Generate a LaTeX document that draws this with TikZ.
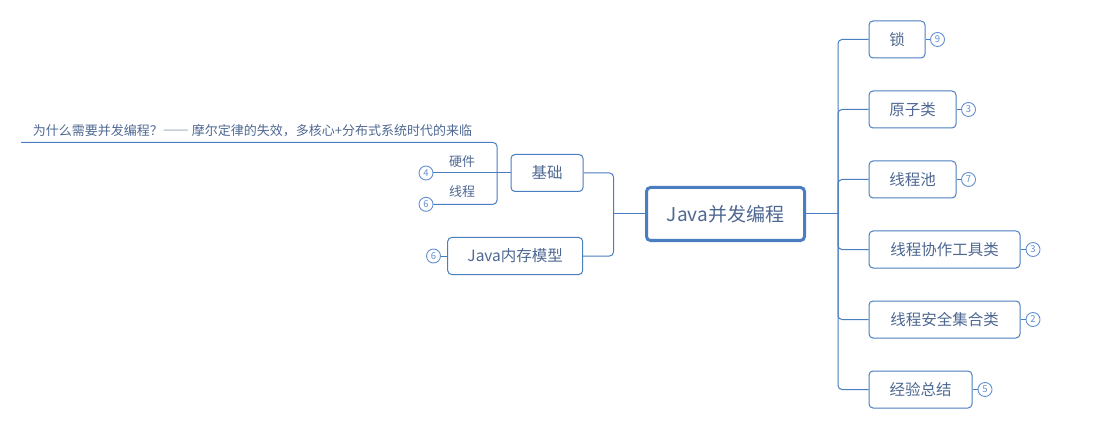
\documentclass[tikz,border=0pt]{standalone}
\usepackage{fontspec}
\setmainfont{Noto Sans CJK SC}
\definecolor{ln}{RGB}{74,126,192}
\definecolor{tx}{RGB}{78,104,146}
\definecolor{bd}{RGB}{100,145,210}
\tikzset{
  topic/.style={draw=ln, line width=1pt, rounded corners=4pt, fill=white, text=tx, font=\fontsize{15.5}{16}\selectfont, minimum height=37pt, inner sep=0pt},
  root/.style={draw=ln, line width=3pt, rounded corners=4pt, fill=white, text=tx, font=\fontsize{19}{20}\selectfont, minimum width=158pt, minimum height=53pt, inner sep=0pt},
  small/.style={text=tx, font=\fontsize{13}{14}\selectfont, inner sep=0pt},
  badge/.style={circle, draw=bd, line width=0.9pt, fill=white, text=bd, font=\fontsize{9.5}{10}\selectfont, minimum size=14pt, inner sep=0pt},
  conn/.style={draw=ln, line width=1pt, rounded corners=4pt},
}
\begin{document}
\begin{tikzpicture}[x=1pt,y=-1pt]
\useasboundingbox (0,0) rectangle (1099,438);
% root
\node[root] (c) at (725.5,214) {Java并发编程};
% right topics
\node[topic, minimum width=56pt] (r1) at (897,39.5) {锁};
\node[topic, minimum width=87pt] (r2) at (912.5,109.5) {原子类};
\node[topic, minimum width=87pt] (r3) at (912.5,179.5) {线程池};
\node[topic, minimum width=151pt] (r4) at (944.5,249.5) {线程协作工具类};
\node[topic, minimum width=151pt] (r5) at (944.5,319.5) {线程安全集合类};
\node[topic, minimum width=103pt] (r6) at (920.5,389.5) {经验总结};
\node[badge] (b1) at (937.5,39.5) {9};
\node[badge] (b2) at (968.5,109.5) {3};
\node[badge] (b3) at (968.5,179.5) {7};
\node[badge] (b4) at (1033,249.5) {3};
\node[badge] (b5) at (1033,319.5) {2};
\node[badge] (b6) at (985,389.5) {5};
\coordinate (rt) at (838,214);
\draw[conn] (c.east) -- (rt);
\foreach \i in {1,...,6} {
  \draw[conn] (rt) |- (r\i.west);
  \draw[conn] (r\i.east) -- (b\i.west);
}
% left topics
\node[topic, minimum width=72pt] (jc) at (547,173) {基础};
\node[topic, minimum width=135pt] (jm) at (515.2,256) {Java内存模型};
\node[badge] (bm) at (433.5,256) {6};
\draw[conn] (jm.west) -- (bm.east);
\coordinate (lt) at (613.5,214);
\draw[conn] (c.west) -- (lt);
\draw[conn] (lt) |- (jc.east);
\draw[conn] (lt) |- (jm.east);
% children of 基础
\coordinate (bt) at (497,173);
\draw[conn] (jc.west) -- (bt);
\node[small] (why) at (252.5,130.5) {为什么需要并发编程？{\addfontfeature{RawFeature=+fwid}——} 摩尔定律的失效，多核心+分布式系统时代的来临};
\coordinate (wl) at (21,142.5);
\draw[conn] (bt) |- (wl);
\node[small] (hw) at (462,161.5) {硬件};
\node[badge] (bh) at (426,173) {4};
\draw[conn] (bt) -- (bh.east);
\node[small] (th) at (462,191.5) {线程};
\node[badge] (bth) at (426,204.3) {6};
\draw[conn] (bt) |- (bth.east);
\end{tikzpicture}
\end{document}
